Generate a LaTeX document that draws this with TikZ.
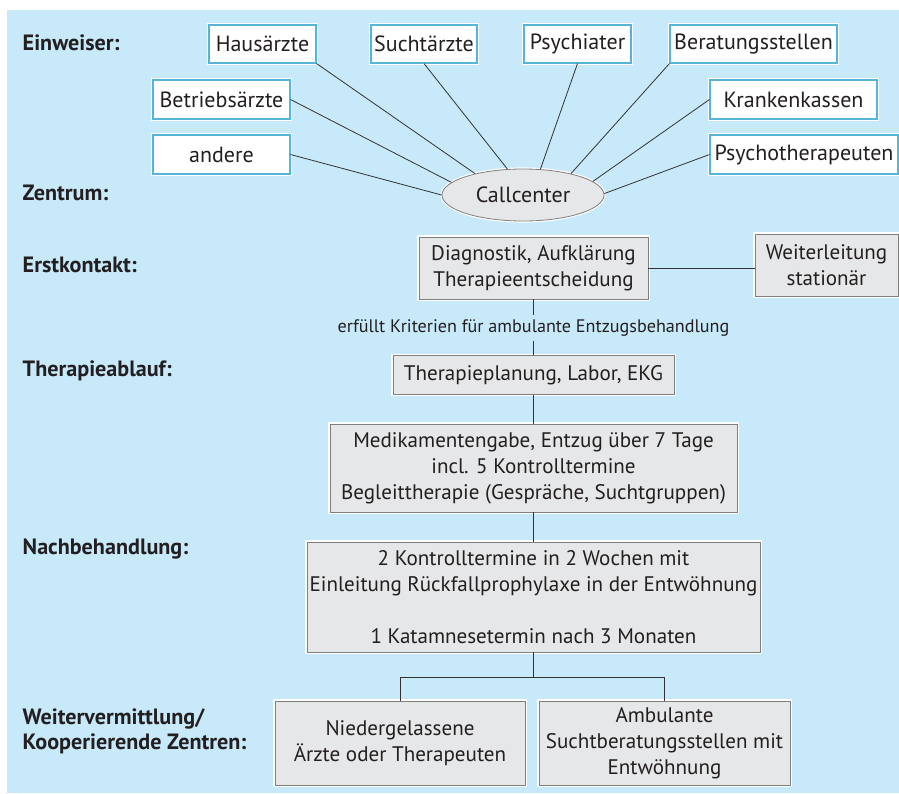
\documentclass[tikz,border=0pt]{standalone}
\usepackage{fontspec}
\setmainfont{PT Sans}
\usetikzlibrary{shapes.geometric}
\definecolor{bgblue}{HTML}{C7E9F9}
\definecolor{refblue}{HTML}{55B4D8}
\definecolor{boxgrey}{HTML}{E6E7E8}
\definecolor{rimgrey}{HTML}{7F7F7F}
\definecolor{linegrey}{HTML}{333333}
\definecolor{ink}{HTML}{231F20}

\begin{document}
\begin{tikzpicture}[x=0.75pt, y=-0.75pt,
	halo/.style={preaction={draw=white, line width=2.4pt}},
	referrer/.style={halo, draw=refblue, line width=0.8pt, fill=white, inner sep=0pt, text=ink, font=\fontsize{16.5}{19}\selectfont},
	stepbox/.style={halo, draw=rimgrey, line width=0.6pt, fill=boxgrey, inner sep=0pt, align=center, text=ink, font=\fontsize{15.8}{19.5}\selectfont},
	phase/.style={anchor=west, align=left, text=ink, font=\bfseries\fontsize{16.6}{18.5}\selectfont},
	link/.style={draw=linegrey, line width=0.6pt}]
		%%%%% START %%%%%
		
		\useasboundingbox (0, 0) rectangle (899, 793);
		\fill[bgblue] (7, 10) rectangle (899, 793);
		
		\node[phase] (lblEin) at (18, 43) {Einweiser:};
		\node[phase] (lblZen) at (18, 193) {Zentrum:};
		\node[phase] (lblErst) at (18, 265) {Erstkontakt:};
		\node[phase] (lblAbl) at (18, 371) {Therapieablauf:};
		\node[phase] (lblNach) at (18, 549) {Nachbehandlung:};
		\node[phase] (lblWeiter) at (18, 731) {Weitervermittlung/\\Kooperierende Zentren:};
		
		\node[referrer, minimum width=80.25pt, minimum height=28.5pt] (haus) at (262.5, 44) {Hausärzte};
		\node[referrer, minimum width=79.5pt, minimum height=28.5pt] (sucht) at (424, 44) {Suchtärzte};
		\node[referrer, minimum width=80.25pt, minimum height=28.5pt] (psych) at (577.5, 44) {Psychiater};
		\node[referrer, minimum width=125.25pt, minimum height=28.5pt] (berat) at (753.5, 44) {Beratungsstellen};
		\node[referrer, minimum width=102.75pt, minimum height=29.25pt] (betrieb) at (221.5, 99.5) {Betriebsärzte};
		\node[referrer, minimum width=125.25pt, minimum height=29.25pt] (kranken) at (793.5, 99.5) {Krankenkassen};
		\node[referrer, minimum width=102.75pt, minimum height=29.25pt] (andere) at (221.5, 154.5) {andere};
		\node[referrer, minimum width=141pt, minimum height=29.25pt] (psychoth) at (804, 154.5) {Psychotherapeuten};
		
		\node[ellipse, halo, draw=rimgrey, line width=0.6pt, fill=boxgrey, inner sep=0pt, minimum width=121.5pt, minimum height=39pt, text=ink, font=\fontsize{16.5}{19}\selectfont] (cc) at (523, 195) {Callcenter};
		
		\draw[link] (haus.south east) -- (cc.156);
		\draw[link] (sucht.south) -- (cc.121);
		\draw[link] (psych.south) -- (cc.56);
		\draw[link] (berat.south west) -- (cc.24);
		\draw[link] (betrieb.east) -- (cc.170);
		\draw[link] (kranken.west) -- (cc.11);
		\draw[link] (andere.east) -- (cc.180);
		\draw[link] (psychoth.west) -- (cc.1);
		
		\node[stepbox, minimum width=171.75pt, minimum height=46.5pt] (diag) at (533.5, 268) {Diagnostik, Aufklärung\\Therapieentscheidung};
		\node[stepbox, minimum width=107.25pt, minimum height=46.5pt] (weiter) at (826.5, 265) {Weiterleitung\\stationär};
		\draw[link] (diag.east) -- (diag.east -| weiter.west);
		
		\node[text=ink, font=\fontsize{13.6}{15}\selectfont, inner sep=3pt] (crit) at (533.5, 328) {erfüllt Kriterien für ambulante Entzugsbehandlung};
		
		\node[stepbox, minimum width=210.75pt, minimum height=29.25pt] (plan) at (533.5, 375) {Therapieplanung, Labor, EKG};
		\node[stepbox, minimum width=305.25pt, minimum height=66pt] (medi) at (533.5, 468) {Medikamentengabe, Entzug über 7 Tage\\incl. 5 Kontrolltermine\\Begleittherapie (Gespräche, Suchtgruppen)};
		\node[stepbox, minimum width=339.75pt, minimum height=82.5pt] (nach) at (533.5, 597) {2 Kontrolltermine in 2 Wochen mit\\Einleitung Rückfallprophylaxe in der Entwöhnung\\[19.5pt]1 Katamnesetermin nach 3 Monaten};
		
		\draw[link] (diag) -- (crit) -- (plan) -- (medi) -- (nach);
		
		\node[stepbox, minimum width=187.5pt, minimum height=63pt] (nieder) at (400, 743) {Niedergelassene\\Ärzte oder Therapeuten};
		\node[stepbox, minimum width=188.25pt, minimum height=63pt] (ambul) at (664.5, 743) {Ambulante\\Suchtberatungsstellen mit\\Entwöhnung};
		
		\draw[link] (nach.south) -- ++(0, 25) coordinate (fork);
		\draw[link] (nieder.north) |- (fork) -| (ambul.north);
		
		%%%%% END %%%%%
\end{tikzpicture}
\end{document}
